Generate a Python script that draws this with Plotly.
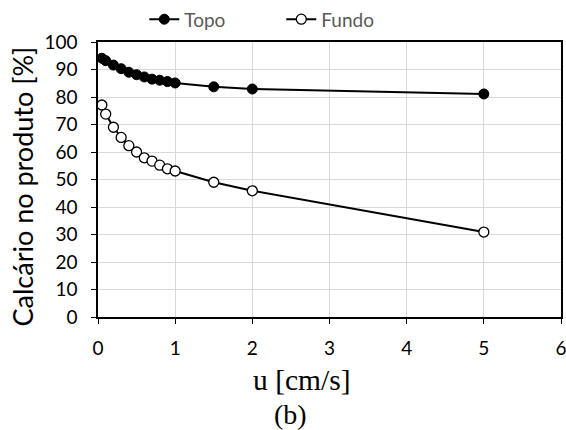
import plotly.graph_objects as go

u = [0.05, 0.1, 0.2, 0.3, 0.4, 0.5, 0.6, 0.7, 0.8, 0.9, 1.0, 1.5, 2.0, 5.0]
topo = [94.1, 93.2, 91.6, 90.3, 89.0, 88.1, 87.3, 86.5, 86.1, 85.6, 85.1, 83.7, 82.9, 81.1]
fundo = [77.1, 73.8, 69.0, 65.3, 62.3, 60.0, 57.9, 56.7, 55.2, 53.9, 53.1, 49.0, 45.9, 30.9]
x_ticks = [0, 1, 2, 3, 4, 5, 6]
y_ticks = [0, 10, 20, 30, 40, 50, 60, 70, 80, 90, 100]

fig = go.Figure()
fig.add_trace(go.Scatter(x=u, y=topo, name="Topo", mode="lines+markers",
                         line=dict(color="black", width=2),
                         marker=dict(size=10, color="black", line=dict(color="black", width=1)),
                         cliponaxis=False))
fig.add_trace(go.Scatter(x=u, y=fundo, name="Fundo", mode="lines+markers",
                         line=dict(color="black", width=2),
                         marker=dict(size=10, color="white", line=dict(color="black", width=1.3)),
                         cliponaxis=False))

tickfont = dict(family="Lato, Open Sans, sans-serif", size=19, color="black")
fig.update_layout(
    template="none",
    width=566, height=430,
    margin=dict(l=98, r=5, t=42, b=113, autoexpand=False),
    plot_bgcolor="white", paper_bgcolor="white",
    showlegend=True,
    legend=dict(orientation="h", x=0.1, xanchor="left", y=0.955, yanchor="middle",
                yref="container",
                font=dict(family="Lato, Open Sans, sans-serif", size=19, color="#595959"),
                itemwidth=30, entrywidth=92, bgcolor="rgba(0,0,0,0)"),
    xaxis=dict(range=[0, 6], tickvals=x_ticks, ticktext=[str(v) for v in x_ticks],
               showgrid=True, gridcolor="#d9d9d9", gridwidth=1, automargin=False,
               showline=True, linecolor="black", linewidth=1.5, mirror=True,
               ticks="outside", ticklen=5, tickcolor="black", tickwidth=1,
               ticklabelstandoff=8, ticklabeloverflow="allow",
               tickfont=tickfont, zeroline=False),
    yaxis=dict(range=[0, 100], tickvals=y_ticks, ticktext=[str(v) for v in y_ticks],
               showgrid=True, gridcolor="#d9d9d9", gridwidth=1, automargin=False,
               showline=True, linecolor="black", linewidth=1.5, mirror=True,
               ticks="outside", ticklen=5, tickcolor="black", tickwidth=1,
               ticklabelstandoff=10, ticklabeloverflow="allow",
               tickfont=tickfont, zeroline=False),
)
fig.add_annotation(text="Calcário no produto [%]", xref="paper", yref="paper",
                   x=-0.162, y=0.4745, textangle=-90, xanchor="center", yanchor="middle",
                   showarrow=False,
                   font=dict(family="Lato, Open Sans, sans-serif", size=27, color="black"))
fig.add_annotation(text="u [cm/s]", xref="paper", yref="paper", x=0.4406, y=-0.229,
                   xanchor="center", yanchor="middle", showarrow=False,
                   font=dict(family="Liberation Serif, serif", size=29.5, color="black"))
fig.add_annotation(text="(b)", xref="paper", yref="paper", x=0.415, y=-0.353,
                   xanchor="center", yanchor="middle", showarrow=False,
                   font=dict(family="Liberation Serif, serif", size=28, color="black"))
fig.write_html("out.html")
